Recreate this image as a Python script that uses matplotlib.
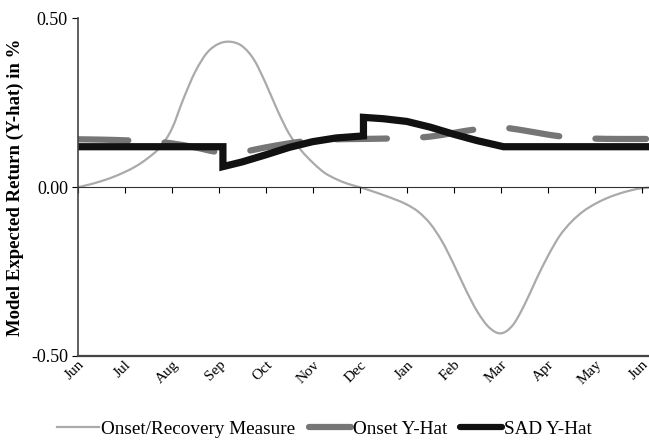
import numpy as np
import matplotlib.pyplot as plt
from matplotlib.lines import Line2D
from matplotlib.path import Path
from matplotlib.patches import PathPatch

plt.rcParams['font.family'] = ['Liberation Serif', 'DejaVu Serif']

# months since June (0 = Jun, 12 = next Jun)
month_labels = ['Jun', 'Jul', 'Aug', 'Sep', 'Oct', 'Nov', 'Dec',
                'Jan', 'Feb', 'Mar', 'Apr', 'May', 'Jun']

# Onset/Recovery measure, read every quarter month
or_x = np.arange(0, 12.26, 0.25)
or_y = [0.000, 0.008, 0.018, 0.030, 0.045, 0.063, 0.087, 0.118,
        0.172, 0.262, 0.342, 0.398, 0.425, 0.431, 0.418, 0.378,
        0.308, 0.228, 0.158, 0.110, 0.073, 0.043, 0.024, 0.010,
        0.000, -0.011, -0.023, -0.036, -0.051, -0.073, -0.108, -0.160,
        -0.228, -0.302, -0.368, -0.415, -0.433, -0.410, -0.350, -0.275,
        -0.205, -0.145, -0.103, -0.072, -0.050, -0.033, -0.020, -0.010,
        -0.003, -0.001]

# Onset Y-hat
onset_x = [0, 0.5, 1.0, 1.5, 2.0, 2.5, 3.0, 3.5, 4.0, 4.5, 5.0, 5.5, 6.0,
           6.5, 7.0, 7.5, 8.0, 8.5, 9.0, 9.5, 10.0, 10.5, 11.0, 11.5, 12.0, 12.25]
onset_y = [0.142, 0.141, 0.139, 0.136, 0.130, 0.118, 0.104, 0.105, 0.118,
           0.130, 0.139, 0.142, 0.143, 0.144, 0.146, 0.150, 0.161, 0.172,
           0.177, 0.168, 0.156, 0.147, 0.144, 0.143, 0.143, 0.143]

# SAD Y-hat
sad_x = [0, 3.09, 3.09, 3.5, 4.0, 4.5, 5.0, 5.5, 6.08, 6.08,
         6.5, 7.0, 7.5, 8.0, 8.5, 9.06, 12.25]
sad_y = [0.120, 0.120, 0.061, 0.075, 0.096, 0.118, 0.135, 0.146, 0.152, 0.207,
         0.203, 0.195, 0.178, 0.157, 0.138, 0.120, 0.120]


def smooth_path(x, y):
    # Excel-style smoothed line: Catmull-Rom segments as cubic Beziers
    p = np.column_stack([x, y]).astype(float)
    ext = np.vstack([p[0], p, p[-1]])
    verts = [p[0]]
    codes = [Path.MOVETO]
    for i in range(1, len(ext) - 2):
        p0, p1, p2, p3 = ext[i - 1], ext[i], ext[i + 1], ext[i + 2]
        verts += [p1 + (p2 - p0) / 6, p2 - (p3 - p1) / 6, p2]
        codes += [Path.CURVE4] * 3
    return Path(verts, codes)


fig = plt.figure(figsize=(6.49, 4.40), dpi=100)
ax = fig.add_axes([0.1197, 0.191, 0.8803, 0.767])

or_patch = PathPatch(smooth_path(or_x, or_y), facecolor='none',
                     edgecolor='#aaaaaa', lw=1.6)
ax.add_patch(or_patch)

# patch dashes are scaled by the linewidth
onset_patch = PathPatch(smooth_path(onset_x, onset_y), facecolor='none',
                        edgecolor='#767676', lw=4.5,
                        linestyle=(0, (8.1, 5.8)),
                        capstyle='round')
ax.add_patch(onset_patch)

ax.plot(sad_x, sad_y, color='#111111', lw=5.2,
        solid_joinstyle='miter', solid_capstyle='butt')

ax.set_xlim(0, 12.155)
ax.set_ylim(-0.5, 0.5)

for s in ['top', 'right']:
    ax.spines[s].set_visible(False)
ax.spines['bottom'].set_position(('data', 0))
ax.spines['bottom'].set_color('#333333')
ax.spines['left'].set_color('#444444')
ax.spines['left'].set_linewidth(1.2)
ax.axhline(-0.5, color='#444444', lw=1.6, clip_on=False)

ax.set_yticks([0.5, 0.0, -0.5])
ax.set_yticklabels(['0.50', '0.00', '-0.50'], fontsize=13)
ax.tick_params(axis='y', direction='out', length=4, pad=3)

ax.set_xticks(range(13))
ax.set_xticklabels(month_labels, rotation=45, ha='right',
                   rotation_mode='anchor', fontsize=11)
ax.tick_params(axis='x', direction='out', length=4, pad=119)

ax.set_ylabel('Model Expected Return (Y-hat) in %', fontsize=13.5,
              fontweight='bold', labelpad=5)

handles = [
    Line2D([], [], color='#aaaaaa', lw=1.6),
    Line2D([], [], color='#767676', lw=4.5, solid_capstyle='round'),
    Line2D([], [], color='#111111', lw=4.5, solid_capstyle='round'),
]
fig.legend(handles, ['Onset/Recovery Measure', 'Onset Y-Hat', 'SAD Y-Hat'],
           loc='lower center', bbox_to_anchor=(0.5, -0.035), ncol=3,
           frameon=False, fontsize=13.8, handlelength=2.2,
           handletextpad=0.1, columnspacing=0.7)

fig.savefig('out.png', dpi=100)
